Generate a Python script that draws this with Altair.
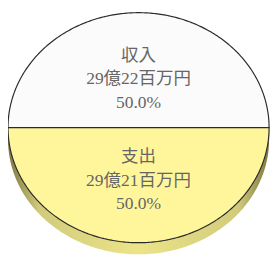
import math
import altair as alt
import pandas as pd

# ---- data ----
categories = ["収入", "支出"]
amounts = ["29億22百万円", "29億21百万円"]
values = [2922, 2921]
percents = ["50.0%", "50.0%"]
colors = ["#fbfbfb", "#fff69b"]

# ---- layout (pixels in page coords minus 8px margin) ----
W, H = 272, 252
cx, cy = 134.5, 119.5
rx, ry = 134.5, 118.5
depth = 12 / ry
label_r = 0.44

total = sum(values)
rows, side, labels = [], [], []
a0 = math.pi  # start at 9 o'clock, run clockwise
N = 241
for cat, val, amt, pct in zip(categories, values, amounts, percents):
    sweep = 2 * math.pi * val / total
    a1 = a0 - sweep
    for k in range(N):
        phi = a0 + (a1 - a0) * k / (N - 1)
        x, y = math.cos(phi), math.sin(phi)
        rows.append({"cat": cat, "x": x, "y": y, "y0": 0.0})
        if y <= 1e-9:
            side.append({"cat": cat, "x": x, "y": y, "yb": y - depth})
    mid = (a0 + a1) / 2
    labels.append({"cat": cat, "x": label_r * math.cos(mid), "y": label_r * math.sin(mid),
                   "l1": cat, "l2": amt, "l3": pct})
    a0 = a1

df = pd.DataFrame(rows)
dside = pd.DataFrame(side)
dlab = pd.DataFrame(labels)

xs = alt.Scale(domain=[(0 - cx) / rx, (W - cx) / rx], nice=False, zero=False)
ys = alt.Scale(domain=[(cy - H) / ry, cy / ry], nice=False, zero=False)

grad = alt.Gradient(
    gradient="linear",
    stops=[
        alt.GradientStop(color="#7c7842", offset=0),
        alt.GradientStop(color="#d2cb7c", offset=0.12),
        alt.GradientStop(color="#ebe488", offset=0.5),
        alt.GradientStop(color="#d2cb7c", offset=0.88),
        alt.GradientStop(color="#7c7842", offset=1),
    ],
    x1=0, x2=1, y1=0, y2=0,
)

side_layer = alt.Chart(dside).mark_area(color=grad, strokeWidth=0).encode(
    x=alt.X("x:Q", scale=xs, axis=None),
    y=alt.Y("y:Q", scale=ys, axis=None, stack=None),
    y2="yb:Q",
    detail="cat:N",
)

face_layer = alt.Chart(df).mark_area(stroke="#2a2a2a", strokeWidth=1.2, fillOpacity=1).encode(
    x=alt.X("x:Q", scale=xs, axis=None),
    y=alt.Y("y:Q", scale=ys, axis=None, stack=None),
    y2="y0:Q",
    fill=alt.Fill("cat:N", scale=alt.Scale(domain=categories, range=colors), legend=None),
)

def text_line(field, dy):
    return alt.Chart(dlab).mark_text(
        font="Liberation Serif, Noto Sans CJK JP",
        fontSize=18,
        color="#666666",
        align="center",
        baseline="middle",
        dy=dy,
    ).encode(
        x=alt.X("x:Q", scale=xs, axis=None),
        y=alt.Y("y:Q", scale=ys, axis=None),
        text=f"{field}:N",
    )

chart = (
    alt.layer(
        side_layer,
        face_layer,
        text_line("l1", 2.5 - 24),
        text_line("l2", 2.5),
        text_line("l3", 2.5 + 24),
    )
    .properties(width=W, height=H, padding=0, autosize=alt.AutoSizeParams(type="none"))
    .configure_view(stroke=None)
)

chart.save("out.html", embed_options={"renderer": "svg", "actions": False})
